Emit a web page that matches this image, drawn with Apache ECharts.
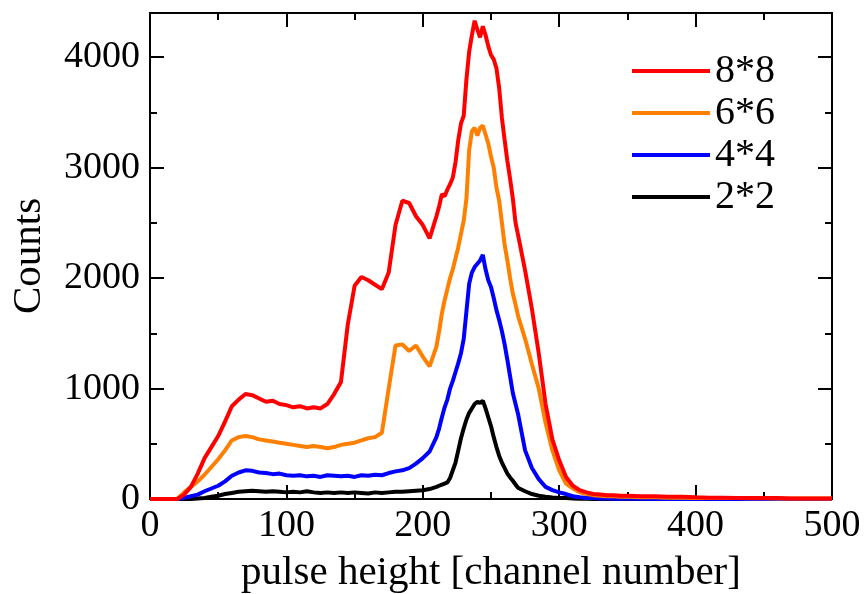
<!DOCTYPE html>
<html>
<head>
<meta charset="utf-8">
<script src="https://cdn.jsdelivr.net/npm/echarts@6/dist/echarts.min.js"></script>
<style>html,body{margin:0;padding:0;background:#fff;}#c{width:865px;height:594px;}</style>
</head>
<body>
<div id="c"></div>
<script>
var channels = [0,5,10,15,20,25,30,35,40,45,50,55,60,65,70,75,80,85,90,95,100,105,110,115,120,125,130,135,140,145,150,155,160,165,170,175,180,185,190,195,200,205,210,
212,214,216,218,220,222,224,226,228,230,232,234,236,238,240,242,244,246,248,250,252,254,256,258,260,262,264,266,268,270,
275,280,285,290,295,300,305,310,315,320,325,330,335,340,345,350,
360,370,380,390,400,410,420,430,440,450,460,470,480,490,500];

var s8x8 = [0,0,0,0,0,40,110,230,370,470,570,700,840,900,950,940,910,880,890,860,850,830,840,820,830,820,860,950,1060,1580,1930,2010,1980,1940,1900,2050,2480,2700,2680,2560,2480,2360,2560,
2650,2760,2740,2800,2850,2910,3050,3250,3400,3470,3800,4050,4200,4330,4250,4180,4280,4200,4100,4020,3980,3900,3720,3450,3250,3060,2900,2720,2500,2380,
2070,1720,1320,860,540,350,200,120,80,60,45,40,35,35,30,30,
25,25,20,20,15,12,12,10,10,8,8,5,5,5,5];

var s6x6 = [0,0,0,0,0,60,110,160,220,290,360,440,530,560,570,560,540,530,520,510,500,490,480,470,480,470,460,470,490,500,510,530,550,560,600,1000,1390,1400,1340,1390,1290,1200,1380,
1520,1680,1800,1900,2000,2080,2180,2280,2400,2520,2720,3160,3330,3360,3290,3360,3380,3300,3220,3100,3000,2820,2700,2500,2300,2160,2000,1860,1760,1650,
1450,1220,1000,690,440,260,140,95,60,45,35,30,25,25,20,20,
15,15,12,12,10,10,8,8,6,6,5,5,4,4,4];

var s4x4 = [0,0,0,0,0,10,25,40,70,95,120,160,210,240,260,255,240,235,225,230,215,210,215,205,210,200,215,210,205,210,200,215,210,220,215,235,250,260,280,320,370,430,560,
640,740,830,900,1000,1070,1150,1230,1320,1450,1700,1950,2050,2100,2130,2160,2210,2080,1980,1920,1820,1710,1620,1520,1400,1260,1110,960,860,760,
440,280,180,110,80,60,45,25,15,10,8,5,5,3,3,2,
2,1,1,1,0,0,0,0,0,0,0,0,0,0,0];

var s2x2 = [0,0,0,0,0,0,0,5,10,20,30,45,55,65,70,75,70,65,70,65,60,65,60,70,60,55,60,55,60,55,60,55,50,60,55,60,65,65,70,75,80,90,110,
120,130,140,150,190,260,330,440,550,640,720,780,820,860,880,870,890,820,740,660,560,470,390,330,280,230,195,165,130,100,
70,45,30,20,14,10,8,5,3,2,1,1,0,0,0,0,
0,0,0,0,0,0,0,0,0,0,0,0,0,0,0];

var seriesNames = ['2*2','4*4','6*6','8*8'];
var seriesValues = [s2x2, s4x4, s6x6, s8x8];
var seriesColors = ['#000000','#0000ff','#ff8000','#ff0000'];
var legendOrder = ['8*8','6*6','4*4','2*2'];

var FONT = 'Liberation Serif';

function pairs(vals){ return channels.map(function(c,i){ return [c, vals[i]]; }); }

var series = seriesNames.map(function(n,k){
  return {
    name: n, type: 'line', xAxisIndex: 0, yAxisIndex: 0,
    data: pairs(seriesValues[k]),
    showSymbol: false, symbol: 'none',
    lineStyle: {width: 4, color: seriesColors[k]},
    itemStyle: {color: seriesColors[k]},
    z: 2 + k
  };
});

var lineCol = '#000';
function xAx(pos, labels){
  return {
    type: 'value', position: pos, min: 0, max: 500, interval: 100,
    axisLine: {show: true, onZero: false, lineStyle: {color: lineCol, width: 2}},
    axisTick: {show: true, inside: true, length: 14, lineStyle: {color: lineCol, width: 2}},
    minorTick: {show: true, splitNumber: 2, length: 7, lineStyle: {color: lineCol, width: 2}},
    splitLine: {show: false}, minorSplitLine: {show: false},
    axisLabel: {show: labels, color: '#000', fontFamily: FONT, fontSize: 38, margin: 8},
    name: labels ? 'pulse height [channel number]' : '',
    nameLocation: 'middle', nameGap: 54,
    nameTextStyle: {color: '#000', fontFamily: FONT, fontSize: 41}
  };
}
function yAx(pos, major, labels){
  return {
    type: 'value', position: pos, min: 0, max: 4400, interval: major ? 1000 : 500,
    axisLine: {show: major, onZero: false, lineStyle: {color: lineCol, width: 2}},
    axisTick: {show: true, inside: true, length: major ? 14 : 7, lineStyle: {color: lineCol, width: 2}},
    splitLine: {show: false},
    axisLabel: {show: labels, color: '#000', fontFamily: FONT, fontSize: 38, margin: 10,
      formatter: function(v){ return v > 4000 ? '' : String(v); }},
    name: labels ? 'Counts' : '',
    nameLocation: 'middle', nameGap: 100,
    nameTextStyle: {color: '#000', fontFamily: FONT, fontSize: 41}
  };
}

var chart = echarts.init(document.getElementById('c'), null, {renderer: 'canvas'});
chart.setOption({
  animation: false,
  backgroundColor: '#fff',
  grid: {left: 150, right: 33, top: 13, bottom: 95, containLabel: false, outerBoundsMode: 'none'},
  xAxis: [xAx('bottom', true), xAx('top', false)],
  yAxis: [yAx('left', true, true), yAx('left', false, false), yAx('right', true, false), yAx('right', false, false)],
  legend: {
    data: legendOrder, orient: 'vertical', left: 632, top: 51, padding: 0,
    itemGap: 2, itemWidth: 78, itemHeight: 4, icon: 'rect',
    textStyle: {color: '#000', fontFamily: FONT, fontSize: 40}
  },
  series: series
});
</script>
</body>
</html>
